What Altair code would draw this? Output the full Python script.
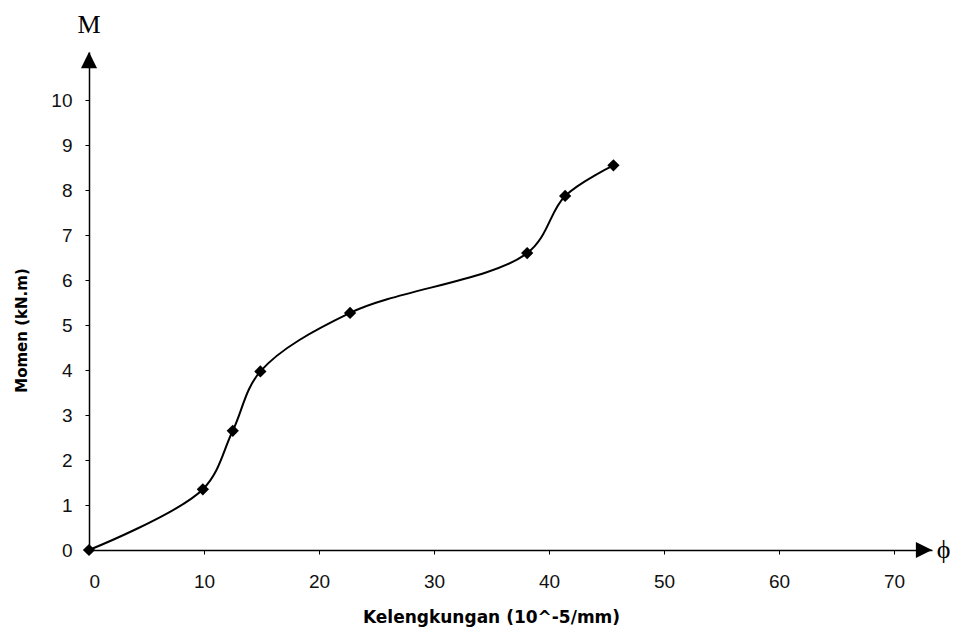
import altair as alt
import pandas as pd

# Data
curv = [0, 9.9, 12.5, 14.9, 22.7, 38.1, 41.4, 45.6]
moment = [0, 1.35, 2.65, 3.97, 5.27, 6.6, 7.87, 8.55]

x_ticks = [0, 10, 20, 30, 40, 50, 60, 70]
y_ticks = [0, 1, 2, 3, 4, 5, 6, 7, 8, 9, 10]

X_MAX = 73.3
Y_MAX = 11.07

df = pd.DataFrame({"x": curv, "y": moment})

xs = alt.Scale(domain=[0, X_MAX], nice=False, zero=False)
ys = alt.Scale(domain=[0, Y_MAX], nice=False, zero=False)

x_axis = alt.Axis(
    values=x_ticks, grid=False, title="Kelengkungan (10^-5/mm)",
    titleFont="DejaVu Sans", titleFontWeight="bold", titleFontSize=17,
    titleX=402, titleY=67, titleAlign="center", titleBaseline="middle",
    labelFont="Liberation Sans", labelFontSize=19, labelPadding=18,
    labelColor="#111", tickSize=4, tickColor="black",
    domainColor="black", domainWidth=1.5,
)
y_axis = alt.Axis(
    values=y_ticks, grid=False, title="Momen (kN.m)",
    titleFont="DejaVu Sans", titleFontWeight="bold", titleFontSize=15,
    titleX=-68, titleY=278, titleAlign="center", titleBaseline="middle", titleAngle=-90,
    labelFont="Liberation Sans", labelFontSize=19, labelPadding=13,
    labelColor="#111", tickSize=4, tickColor="black",
    domainColor="black", domainWidth=1.5,
)

base = alt.Chart(df)

line = base.mark_line(color="black", strokeWidth=2, interpolate="catmull-rom").encode(
    x=alt.X("x:Q", scale=xs, axis=x_axis),
    y=alt.Y("y:Q", scale=ys, axis=y_axis),
)
pts = base.mark_point(shape="diamond", filled=True, size=150, color="black", opacity=1).encode(
    x=alt.X("x:Q", scale=xs), y=alt.Y("y:Q", scale=ys)
)

arrows = pd.DataFrame({
    "x": [X_MAX, 0],
    "y": [0, Y_MAX],
    "shape": ["M0,0L-2,-1L-2,1Z", "M0,0L-1,2L1,2Z"],
})
arrow_layer = alt.Chart(arrows).mark_point(filled=True, size=260, color="black", opacity=1).encode(
    x=alt.X("x:Q", scale=xs), y=alt.Y("y:Q", scale=ys),
    shape=alt.Shape("shape:N", scale=None, legend=None),
)

labels = pd.DataFrame({"x": [0, 74.3], "y": [11.68, 0], "t": ["M", "ϕ"]})
label_layer = alt.Chart(labels).mark_text(
    font="Liberation Serif", fontSize=26, color="black", align="center", baseline="middle"
).encode(x=alt.X("x:Q", scale=xs), y=alt.Y("y:Q", scale=ys), text="t:N")

chart = alt.layer(line, pts, arrow_layer, label_layer).properties(
    width=843, height=498,
    autosize=alt.AutoSizeParams(type="none"),
    padding={"left": 81, "top": 44, "right": 19, "bottom": 84},
    view=alt.ViewBackground(stroke="transparent", strokeWidth=0),
).configure_view(strokeWidth=0, stroke="transparent").configure(background="white")

chart.save("out.html", embed_options={"renderer": "svg", "actions": False})
